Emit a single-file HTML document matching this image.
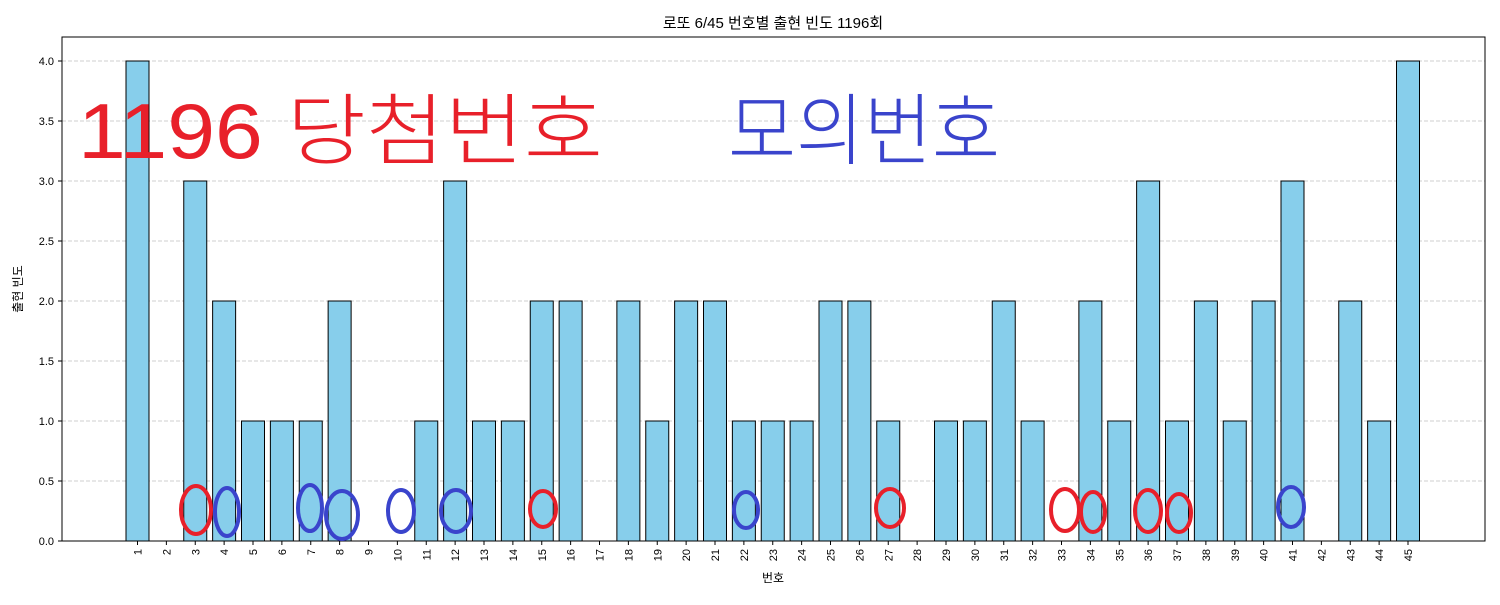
<!DOCTYPE html>
<html><head><meta charset="utf-8"><style>
body{margin:0;background:#fff}
svg text{font-family:"Liberation Sans","Noto Sans CJK KR",sans-serif}
</style></head><body>
<svg id="s" width="1500" height="600" xmlns="http://www.w3.org/2000/svg">
<rect width="1500" height="600" fill="#fff"/>
<text x="773" y="28" font-size="15" text-anchor="middle" fill="#000">로또 6/45 번호별 출현 빈도 1196회</text>
<g id="grid"></g>
<g id="bars"></g>
<rect x="62" y="37" width="1423" height="504" fill="none" stroke="#000" stroke-width="1"/>
<g id="ticks" font-size="11" fill="#000"></g>
<text x="773" y="582" font-size="12" text-anchor="middle">번호</text>
<text transform="translate(22,289) rotate(-90)" font-size="12" text-anchor="middle">출현 빈도</text>
<g style="font-family:'Noto Sans CJK KR',sans-serif" font-size="78" font-weight="200">
<text x="78" y="158" fill="#e8202a" textLength="525" lengthAdjust="spacingAndGlyphs">1196 당첨번호</text>
<text x="728" y="158" fill="#3a44cc" textLength="272" lengthAdjust="spacingAndGlyphs">모의번호</text>
</g>
<g id="circ" fill="none" stroke-width="4"></g>
</svg>
<script>
var ns="http://www.w3.org/2000/svg";
function el(p,t,a){var e=document.createElementNS(ns,t);for(var k in a)e.setAttribute(k,a[k]);document.getElementById(p).appendChild(e);return e;}
var v=[4,0,3,2,1,1,1,2,0,0,1,3,1,1,2,2,0,2,1,2,2,1,1,1,2,2,1,0,1,1,2,1,0,2,1,3,1,2,1,2,3,0,2,1,4];
for(var i=0;i<=8;i++){var y=541-i*60;
 if(i>0)el("grid","line",{x1:62,x2:1485,y1:y,y2:y,stroke:"#cfcfcf","stroke-dasharray":"4,2"});
 el("ticks","line",{x1:58,x2:62,y1:y,y2:y,stroke:"#000"});
 var t=el("ticks","text",{x:54,y:y+4,"text-anchor":"end"});t.textContent=(i*0.5).toFixed(1);}
for(var n=1;n<=45;n++){var cx=137.5+(n-1)*28.875;
 var h=v[n-1]*120;
 el("bars","rect",{x:cx-11.5,y:541-h,width:23,height:h,fill:"#87ceeb",stroke:"#000","stroke-width":1});
 el("ticks","line",{x1:cx,x2:cx,y1:541,y2:545,stroke:"#000"});
 var t=el("ticks","text",{transform:"translate("+(cx+4)+",549) rotate(-90)","text-anchor":"end"});t.textContent=n;}
var c=[[196,510,15,24,"r"],[227,512,12,24,"b"],[310,508,12,23,"b"],[342,515,16,24,"b"],[401,511,13,21,"b"],[456,511,15,21,"b"],[543,509,13,18,"r"],[746,510,12,18,"b"],[890,508,14,19,"r"],[1065,510,14,21,"r"],[1093,512,12,20,"r"],[1148,511,13,21,"r"],[1179,513,12,19,"r"],[1291,507,13,20,"b"]];
c.forEach(function(q){el("circ","ellipse",{cx:q[0],cy:q[1],rx:q[2],ry:q[3],stroke:q[4]=="r"?"#e8202a":"#3a44cc"});});
</script>
</body></html>
